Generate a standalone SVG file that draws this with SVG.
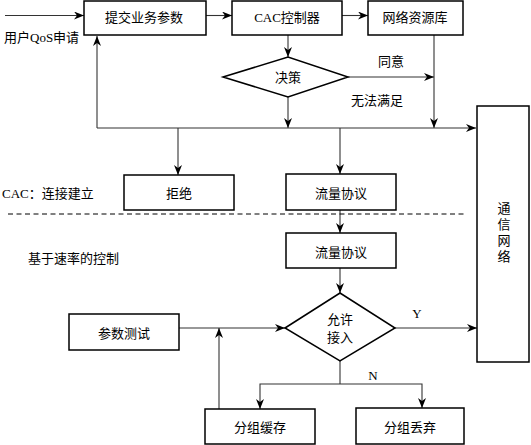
<svg xmlns="http://www.w3.org/2000/svg" width="531" height="445" viewBox="0 0 531 445">
<defs>
<marker id="ah" markerUnits="userSpaceOnUse" markerWidth="10" markerHeight="8" refX="10" refY="4" orient="auto">
<path d="M0,0 L10,4 L0,8 L3,4 z" fill="#000"/>
</marker>
<style>
.box{fill:#fff;stroke:#000;stroke-width:1.5}
.ln{fill:none;stroke:#333;stroke-width:1.1}
.ar{fill:none;stroke:#333;stroke-width:1.1;marker-end:url(#ah)}
text{font-family:"Liberation Serif","Noto Sans CJK SC",serif;font-size:13px;fill:#000}
.c{text-anchor:middle;dominant-baseline:central}
</style>
</defs>
<rect width="531" height="445" fill="#fff"/>
<g id="connectors">
<line class="ar" x1="5" y1="15.5" x2="84" y2="15.5"/>
<line class="ar" x1="206" y1="15.5" x2="232" y2="15.5"/>
<line class="ar" x1="342" y1="15.5" x2="368" y2="15.5"/>
<line class="ar" x1="288" y1="35" x2="288" y2="57"/>
<line class="ar" x1="348" y1="77" x2="434" y2="77"/>
<line class="ar" x1="434" y1="35" x2="434" y2="128"/>
<line class="ar" x1="288" y1="97" x2="288" y2="128"/>
<line class="ar" x1="97" y1="128" x2="476" y2="128"/>
<line class="ar" x1="97" y1="128" x2="97" y2="36"/>
<line class="ar" x1="178" y1="128" x2="178" y2="175"/>
<line class="ar" x1="340" y1="128" x2="340" y2="174"/>
<line class="ar" x1="340" y1="210" x2="340" y2="233"/>
<line class="ar" x1="340" y1="268" x2="340" y2="293"/>
<line class="ar" x1="179" y1="328" x2="285" y2="328"/>
<line class="ar" x1="219" y1="409" x2="219" y2="328"/>
<line class="ar" x1="395" y1="328" x2="477" y2="328"/>
<polyline class="ln" points="340,361 340,384"/>
<polyline class="ar" points="340,384 260,384 260,409"/>
<polyline class="ar" points="340,384 422,384 422,408"/>
<line x1="8" y1="214" x2="467" y2="214" stroke="#000" stroke-width="1" stroke-dasharray="5,3.5"/>
</g>
<g id="n-submit"><rect class="box" x="84" y="1" width="122" height="34"/><text class="c" x="144" y="17">提交业务参数</text></g>
<g id="n-cac"><rect class="box" x="232" y="1" width="110" height="34"/><text class="c" x="287" y="17">CAC控制器</text></g>
<g id="n-res"><rect class="box" x="368" y="1" width="95" height="34"/><text class="c" x="415" y="17">网络资源库</text></g>
<g id="n-decide"><polygon class="box" points="223,77 288,57 348,77 288,97"/><text class="c" x="288" y="77">决策</text></g>
<g id="n-reject"><rect class="box" x="124" y="175" width="110" height="35"/><text class="c" x="179" y="193">拒绝</text></g>
<g id="n-flow1"><rect class="box" x="286" y="174" width="110" height="36"/><text class="c" x="341" y="193">流量协议</text></g>
<g id="n-flow2"><rect class="box" x="286" y="233" width="110" height="35"/><text class="c" x="341" y="252">流量协议</text></g>
<g id="n-allow"><polygon class="box" points="285,328 340,293 395,328 340,361"/><text class="c" x="340" y="319">允许</text><text class="c" x="340" y="337">接入</text></g>
<g id="n-test"><rect class="box" x="69" y="314" width="110" height="36"/><text class="c" x="124" y="333">参数测试</text></g>
<g id="n-buffer"><rect class="box" x="205" y="409" width="110" height="35"/><text class="c" x="260" y="427">分组缓存</text></g>
<g id="n-drop"><rect class="box" x="356" y="408" width="108" height="36"/><text class="c" x="410" y="427">分组丢弃</text></g>
<g id="n-net"><rect class="box" x="477" y="106" width="52" height="256"/>
<text class="c" x="504" y="208">通</text><text class="c" x="504" y="224">信</text><text class="c" x="504" y="240">网</text><text class="c" x="504" y="256">络</text></g>
<g id="labels">
<text x="4" y="42">用户QoS申请</text>
<text class="c" x="391" y="61">同意</text>
<text class="c" x="377" y="100">无法满足</text>
<text x="2" y="198">CAC：连接建立</text>
<text x="28" y="263">基于速率的控制</text>
<text class="c" x="417" y="313">Y</text>
<text class="c" x="373" y="375">N</text>
</g>
</svg>
